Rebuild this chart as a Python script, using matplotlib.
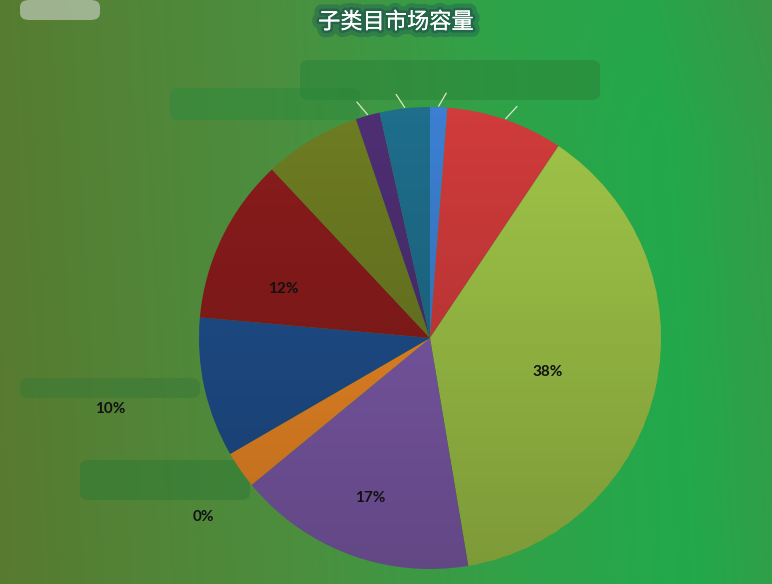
import numpy as np
import matplotlib
matplotlib.use("Agg")
import matplotlib.pyplot as plt
from matplotlib.colors import to_rgb
from matplotlib.patches import Circle, FancyBboxPatch
import matplotlib.patheffects as pe

# ---- data ----
title = "子类目市场容量"
shares = [1.2, 8.2, 38.0, 16.7, 2.6, 9.8, 11.6, 6.8, 1.7, 3.5]
pct_labels = ["", "", "38%", "17%", "0%", "10%", "12%", "", "", ""]
colors = ["#3C7FD2", "#D03B3B", "#A0C548", "#7E5BAA", "#F08A26",
          "#1F4F8D", "#8A1C1C", "#6E7C22", "#4E2F73", "#1E6E8C"]
label_dist = [0, 0, 0.53, 0.74, 1.25, 1.42, 0.67, 0, 0, 0]
label_frac = [0, 0, 0.53, 0.5, 0.12, 0.5, 0.32, 0, 0, 0]
leader_idx = [0, 1, 8, 9]

W, H = 772, 584
fig = plt.figure(figsize=(W / 100, H / 100), dpi=100)

# background gradient, computed at exact pixel size
stop_pos = [0.0, 0.35, 0.62, 0.82, 1.0]
stop_col = np.array([to_rgb(c) for c in ["#587A30", "#4C8E3E", "#30A248", "#22A94C", "#3A9846"]])
xs = np.linspace(0, 1, W)
ys = np.linspace(1, 0, H)   # row 0 = top
X, Y = np.meshgrid(xs, ys)
T = np.clip(X * 0.92 + 0.04 * Y, 0, 1)
img = np.stack([np.interp(T, stop_pos, stop_col[:, k]) for k in range(3)], axis=-1)
dull = np.clip((X - 0.7) / 0.3, 0, 1) * np.clip((Y - 0.75) / 0.25, 0, 1)
img = img * (1 - 0.25 * dull[..., None]) + np.array(to_rgb("#4A8A44")) * 0.25 * dull[..., None]
fig.figimage(img, xo=0, yo=0, origin="upper", zorder=0)

bg = fig.add_axes([0, 0, 1, 1])
bg.set_zorder(1)
bg.set_axis_off()
bg.patch.set_alpha(0)
bg.set_xlim(0, 1)
bg.set_ylim(0, 1)

def rbox(x0, y0, x1, y1, col, a):
    p = FancyBboxPatch((x0 / W, 1 - y1 / H), (x1 - x0) / W, (y1 - y0) / H,
                       boxstyle="round,pad=0,rounding_size=0.012",
                       transform=bg.transAxes, facecolor=col, edgecolor="none",
                       alpha=a, zorder=3)
    bg.add_patch(p)

# pie axes
cx, cy, r = 430, 338, 231
ax = fig.add_axes([(cx - r) / W, (H - cy - r) / H, 2 * r / W, 2 * r / H])
ax.set_zorder(2)
ax.set_axis_off()
wedges, _ = ax.pie(shares, colors=colors, startangle=90, counterclock=False,
                   wedgeprops=dict(edgecolor="none", linewidth=0))
ax.set_xlim(-1, 1)
ax.set_ylim(-1, 1)
ax.set_aspect("equal")

# vertical shading over the pie
grad = np.linspace(0, 1, 256)[:, None]
shade = np.zeros((256, 1, 4))
shade[..., 3] = 0.22 * (1 - grad)
im = ax.imshow(shade, extent=[-1, 1, -1, 1], origin="lower", aspect="auto",
               zorder=5, interpolation="bilinear")
im.set_clip_path(Circle((0, 0), 1.0, transform=ax.transData))

# percentage labels
for w, lab, d, f in zip(wedges, pct_labels, label_dist, label_frac):
    if not lab:
        continue
    ang = np.deg2rad(w.theta2 - f * (w.theta2 - w.theta1))
    ax.text(d * np.cos(ang), d * np.sin(ang), lab, ha="center", va="center",
            fontsize=11, fontweight="bold", family=["Lato", "DejaVu Sans"],
            color="#111111", zorder=10, clip_on=False)

# leader lines for the small top slices
for i in leader_idx:
    w = wedges[i]
    ang = np.deg2rad((w.theta1 + w.theta2) / 2)
    ax.plot([1.005 * np.cos(ang), 1.06 * np.cos(ang) + 0.03 * np.sign(np.cos(ang))],
            [1.005 * np.sin(ang), 1.06 * np.sin(ang)],
            color="#D8E8C8", lw=0.9, zorder=10, clip_on=False)

# decor boxes standing in for the obscured category names
rbox(20, 378, 200, 398, "#3A7A36", 0.55)
rbox(80, 460, 250, 500, "#2F7A34", 0.55)
rbox(280, 460, 460, 490, "#5E4690", 0.5)
rbox(430, 340, 660, 360, "#7E9A30", 0.55)
rbox(220, 260, 340, 280, "#6A1616", 0.45)
rbox(170, 88, 360, 120, "#2F8A3C", 0.55)
rbox(300, 60, 600, 100, "#2A8438", 0.55)
rbox(20, 0, 100, 20, "#B8C4B0", 0.75)

# title
fig.text(396 / W, 1 - 22 / H, title, ha="center", va="center", fontsize=16,
         color="white", family=["Noto Sans CJK SC", "DejaVu Sans"], zorder=5,
         path_effects=[pe.withStroke(linewidth=10, foreground="#1E5A52", alpha=0.4),
                       pe.withStroke(linewidth=4, foreground="#1A4E48", alpha=0.5),
                       pe.Normal()])

fig.savefig("out.png", dpi=100)
